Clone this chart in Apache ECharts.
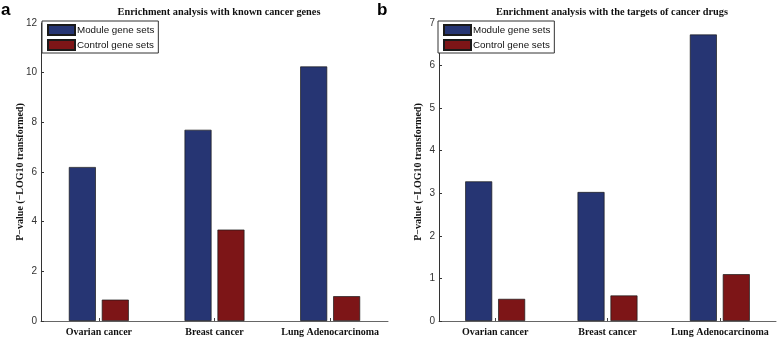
<!DOCTYPE html>
<html><head><meta charset="utf-8">
<script src="https://cdn.jsdelivr.net/npm/echarts@6/dist/echarts.min.js"></script>
<style>html,body{margin:0;padding:0;background:#fff}#c{width:778px;height:337px}</style>
</head><body><div id="c"></div>
<script>
const categories = ['Ovarian cancer', 'Breast cancer', 'Lung Adenocarcinoma'];
const moduleA = [6.2, 7.7, 10.25];
const controlA = [0.86, 3.68, 1.0];
const moduleB = [3.28, 3.03, 6.73];
const controlB = [0.52, 0.6, 1.1];
const titleA = 'Enrichment analysis with known cancer genes';
const titleB = 'Enrichment analysis with the targets of cancer drugs';
const yName = 'P\u2212value (\u2212LOG10 transformed)';
const seriesNames = ['Module gene sets', 'Control gene sets'];

const navy = '#263573', red = '#7d1517';
const serif = '"Liberation Serif","Times New Roman",serif';
const sans = '"Liberation Sans",Arial,sans-serif';

function xAxis(gi){
  return {type:'category', gridIndex:gi, data:categories, boundaryGap:true,
    axisLine:{lineStyle:{color:'#666', width:1}},
    axisTick:{show:true, inside:true, length:3, alignWithLabel:true, lineStyle:{color:'#444'}},
    axisLabel:{interval:0, fontFamily:serif, fontWeight:'bold', fontSize:10, color:'#111', margin:6}};
}
function yAxis(gi, max, interval){
  return {type:'value', gridIndex:gi, min:0, max:max, interval:interval,
    name:yName, nameLocation:'middle', nameGap:16, nameMoveOverlap:false,
    nameTextStyle:{fontFamily:serif, fontWeight:'bold', fontSize:10, color:'#111'},
    axisLine:{show:true, lineStyle:{color:'#333', width:1}},
    axisTick:{show:true, inside:true, length:3, lineStyle:{color:'#333'}},
    axisLabel:{fontFamily:sans, fontSize:10, color:'#333', margin:4},
    splitLine:{show:false}};
}
function bar(name, data, color, gi){
  return {name:name, type:'bar', xAxisIndex:gi, yAxisIndex:gi, data:data,
    barWidth:27, barGap:'22%',
    itemStyle:{color:color, borderColor:'#1a1a1a', borderWidth:0.7}, silent:true};
}
function legend(left){
  return {left:left, top:21, orient:'vertical', itemWidth:27, itemHeight:10, itemGap:3,
    padding:[3,4,2,5], backgroundColor:'#fff', borderColor:'#333', borderWidth:1, borderRadius:0,
    icon:'rect', selectedMode:false,
    textStyle:{fontFamily:sans, fontSize:9.8, color:'#111', padding:[0,0,0,-3]},
    data:[{name:seriesNames[0], itemStyle:{color:navy}}, {name:seriesNames[1], itemStyle:{color:red}}]};
}
const chart = echarts.init(document.getElementById('c'), null, {renderer:'canvas'});
chart.setOption({
  animation:false,
  backgroundColor:'#fff',
  title:[
    {text:titleA, left:214, top:2, textAlign:'center', textStyle:{fontFamily:serif, fontWeight:'bold', fontSize:10.3, color:'#111'}},
    {text:titleB, left:607, top:2, textAlign:'center', textStyle:{fontFamily:serif, fontWeight:'bold', fontSize:10.3, color:'#111'}}
  ],
  graphic:[
    {type:'text', left:1, top:2, style:{text:'a', font:'bold 17px "Liberation Sans", Arial', fill:'#000'}},
    {type:'text', left:377, top:2, style:{text:'b', font:'bold 17px "Liberation Sans", Arial', fill:'#000'}}
  ],
  legend:[legend(42), legend(438)],
  grid:[
    {left:41, right:390, top:23, bottom:15, containLabel:false},
    {left:439, right:2, top:23, bottom:15, containLabel:false}
  ],
  xAxis:[xAxis(0), xAxis(1)],
  yAxis:[yAxis(0, 12, 2), yAxis(1, 7, 1)],
  series:[
    bar(seriesNames[0], moduleA, navy, 0),
    bar(seriesNames[1], controlA, red, 0),
    bar(seriesNames[0], moduleB, navy, 1),
    bar(seriesNames[1], controlB, red, 1)
  ]
});
</script></body></html>
